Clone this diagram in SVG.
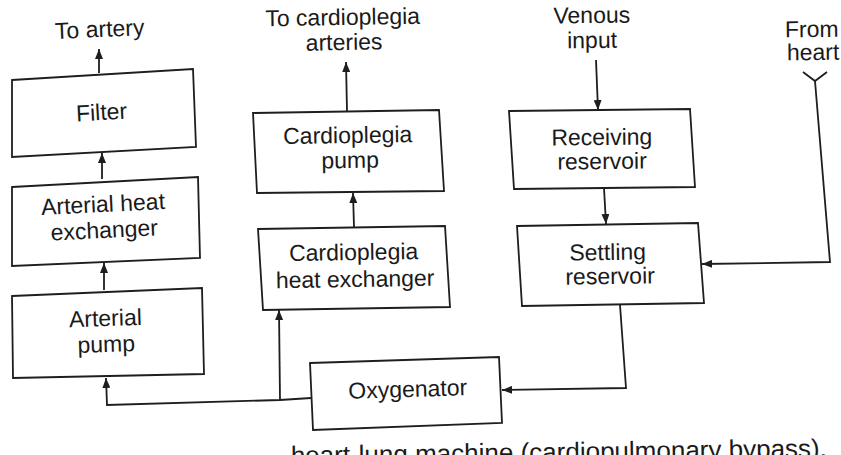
<svg xmlns="http://www.w3.org/2000/svg" width="841" height="455" viewBox="0 0 841 455">
<style>
.box{fill:#ffffff;stroke:#1e1e1e;stroke-width:1.8}
.lbl{font-family:"Liberation Sans",Arial,sans-serif;font-size:23px;fill:#1a1a1a;text-anchor:middle}
.cap{font-family:"Liberation Sans",Arial,sans-serif;font-size:26px;fill:#1a1a1a;text-anchor:end}
.ln{fill:none;stroke:#1e1e1e;stroke-width:1.8}
.arr{marker-end:url(#ah)}
</style>
<defs>
<marker id="ah" markerUnits="userSpaceOnUse" markerWidth="10" markerHeight="8" refX="10" refY="4" orient="auto">
<path d="M0,0 L10,4 L0,8 Z" fill="#1e1e1e"/>
</marker>
</defs>
<rect width="841" height="455" fill="#ffffff"/>

<g id="label-to-artery"><text class="lbl" transform="rotate(-2.5 100 37)" x="100" y="37">To artery</text></g>
<g id="label-to-cardioplegia"><text class="lbl" transform="rotate(-1 343 37)"><tspan x="343" y="25">To cardioplegia</tspan><tspan x="344" y="50">arteries</tspan></text></g>
<g id="label-venous"><text class="lbl" transform="rotate(-0.6 592 35)"><tspan x="592" y="23">Venous</tspan><tspan x="592" y="48">input</tspan></text></g>
<g id="label-from-heart"><text class="lbl" transform="rotate(-0.6 812 48)"><tspan x="812" y="37">From</tspan><tspan x="813" y="60">heart</tspan></text></g>

<g id="filter">
<polygon class="box" points="12,80 193,69 196,147 12,157"/>
<text class="lbl" transform="rotate(-3.2 102 120)" x="102" y="120">Filter</text>
</g>
<g id="arterial-heat-exchanger">
<polygon class="box" points="12,187 198,177 200,258 12,266"/>
<text class="lbl" transform="rotate(-2.8 104 225)"><tspan x="104" y="212">Arterial heat</tspan><tspan x="104" y="238">exchanger</tspan></text>
</g>
<g id="arterial-pump">
<polygon class="box" points="12,296 202,288 204,374 13,378"/>
<text class="lbl" transform="rotate(-1.8 106 338)"><tspan x="106" y="326">Arterial</tspan><tspan x="106" y="352">pump</tspan></text>
</g>
<g id="cardioplegia-pump">
<polygon class="box" points="253,113 439,110 444,191 257,193"/>
<text class="lbl" transform="rotate(-0.8 349 155)"><tspan x="348" y="143">Cardioplegia</tspan><tspan x="350" y="168">pump</tspan></text>
</g>
<g id="cardioplegia-heat-exchanger">
<polygon class="box" points="258,229 445,226 450,307 263,310"/>
<text class="lbl" transform="rotate(-0.9 355 273)"><tspan x="354" y="260">Cardioplegia</tspan><tspan x="355" y="287">heat exchanger</tspan></text>
</g>
<g id="oxygenator">
<polygon class="box" points="310,363 499,357 502,423 313,430"/>
<text class="lbl" transform="rotate(-1.8 408 397)" x="408" y="397">Oxygenator</text>
</g>
<g id="receiving-reservoir">
<polygon class="box" points="509,111 690,109 695,187 514,189"/>
<text class="lbl" transform="rotate(-0.6 602 157)"><tspan x="602" y="145">Receiving</tspan><tspan x="602" y="169">reservoir</tspan></text>
</g>
<g id="settling-reservoir">
<polygon class="box" points="517,226 698,223 704,303 522,306"/>
<text class="lbl" transform="rotate(-0.9 609 272)"><tspan x="608" y="260">Settling</tspan><tspan x="610" y="284">reservoir</tspan></text>
</g>

<g id="connectors">
<path class="ln arr" d="M99,73 L99,49"/>
<path class="ln arr" d="M102,179 L102,153"/>
<path class="ln arr" d="M104,290 L104,263"/>
<path class="ln arr" d="M311,398 L280,400 L107,405 L106,378"/>
<path class="ln arr" d="M280,400 L279,310"/>
<path class="ln arr" d="M354,227 L353,193"/>
<path class="ln arr" d="M347,111 L346,62"/>
<path class="ln arr" d="M596,60 L598,110"/>
<path class="ln arr" d="M604,188 L606,224"/>
<path class="ln" d="M803,72 L815,81 L827,72"/>
<path class="ln arr" d="M815,81 L830,262 L702,264"/>
<path class="ln arr" d="M620,305 L626,388 L502,390"/>
</g>

<g id="caption"><text class="cap" transform="rotate(-0.8 827 457)" x="827" y="457">heart-lung machine (cardiopulmonary bypass).</text></g>
</svg>
